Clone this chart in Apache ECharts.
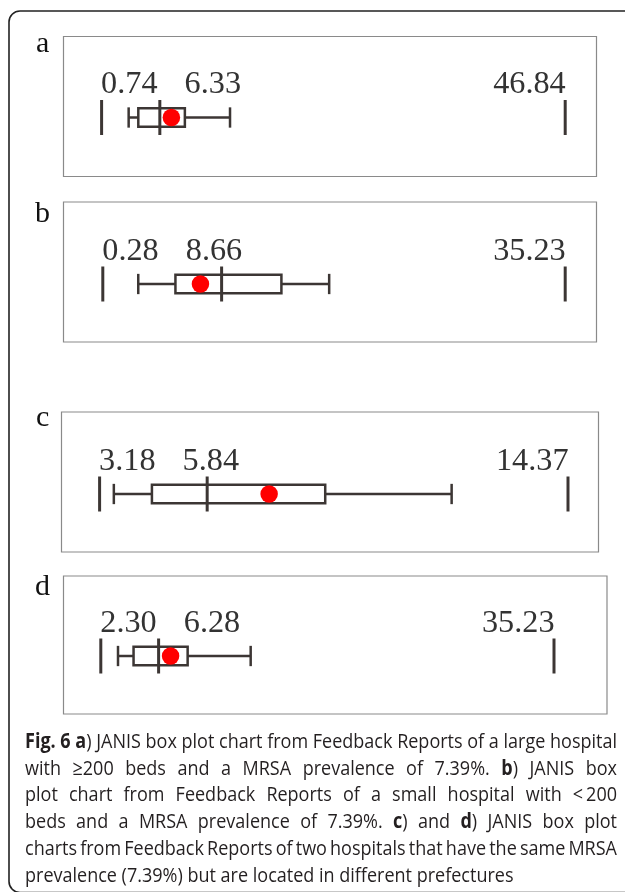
<!DOCTYPE html>
<html>
<head>
<meta charset="utf-8">
<style>
html,body{margin:0;padding:0;background:#fff;}
#chart{width:625px;height:892px;}
</style>
<script src="https://cdn.jsdelivr.net/npm/echarts@6/dist/echarts.min.js"></script>
</head>
<body>
<div id="chart"></div>
<script>
// ---------------- DATA ----------------
const panelLetters = ['a', 'b', 'c', 'd'];
const minValues = [0.74, 0.28, 3.18, 2.30];
const maxValues = [46.84, 35.23, 14.37, 35.23];
const medianLabels = ['6.33', '8.66', '5.84', '6.28'];
const whiskerLow = [3.43, 2.96, 3.52, 3.55];
const q1Values = [4.39, 5.77, 4.43, 4.68];
const medianValues = [6.53, 9.26, 5.75, 6.50];
const q3Values = [9.02, 13.78, 8.57, 8.61];
const whiskerHigh = [13.51, 17.39, 11.59, 13.19];
const hospitalValues = [7.68, 7.66, 7.23, 7.37];
const captionLines = [
  '**Fig. 6 a**) JANIS box plot chart from Feedback Reports of a large hospital',
  'with \u2265200 beds and a MRSA prevalence of 7.39%. **b**) JANIS box',
  'plot chart from Feedback Reports of a small hospital with <\u2009200',
  'beds and a MRSA prevalence of 7.39%. **c**) and **d**) JANIS box plot',
  'charts from Feedback Reports of two hospitals that have the same MRSA',
  'prevalence (7.39%) but are located in different prefectures'
];

// ---------------- LAYOUT ----------------
const W = 625;
const panelRects = [[63.5, 36.5, 533, 140], [63.5, 202, 533, 140], [61.5, 412, 537, 140], [63.5, 576, 543.5, 138]];
const letterPos = [[36, 44], [35, 214], [36, 418], [35, 587]];
const axisPx = [[101.6, 565.2, 117.5], [102.8, 565.2, 284], [99.6, 568, 494], [100.8, 554, 656]];
const BAND = 35;
const SERIF = '"Liberation Serif", "Times New Roman", serif';
const SANS = '"Open Sans", "Noto Sans", sans-serif';
const INK = '#3c3634';

const chart = echarts.init(document.getElementById('chart'), null, {renderer: 'canvas'});

const grids = [], xAxes = [], yAxes = [], series = [];
panelLetters.forEach((L, i) => {
  grids.push({left: axisPx[i][0], right: W - axisPx[i][1], top: axisPx[i][2] - BAND / 2, height: BAND, show: false});
  xAxes.push({type: 'value', gridIndex: i, min: minValues[i], max: maxValues[i], show: false});
  yAxes.push({type: 'value', gridIndex: i, min: 0, max: 1, show: false});
  series.push({
    type: 'custom',
    xAxisIndex: i, yAxisIndex: i,
    clip: false,
    silent: true,
    encode: {x: [0, 1, 2, 3, 4, 5, 6], y: 7},
    data: [[minValues[i], maxValues[i], whiskerLow[i], q1Values[i], medianValues[i], q3Values[i], whiskerHigh[i], 0.5]],
    renderItem: function (params, api) {
      const idx = params.seriesIndex / 2 | 0;
      const X = v => api.coord([v, 0.5])[0];
      const cy = api.coord([api.value(0), 0.5])[1];
      const H = api.size([0, 1])[1];
      const capH = H * 0.58, boxH = H * 0.53;
      const vline = (x, h, lw) => ({type: 'line', shape: {x1: x, y1: cy - h / 2, x2: x, y2: cy + h / 2}, style: {stroke: INK, lineWidth: lw}});
      const hline = (xa, xb) => ({type: 'line', shape: {x1: xa, y1: cy, x2: xb, y2: cy}, style: {stroke: INK, lineWidth: 2.5}});
      const xMin = X(api.value(0)), xMax = X(api.value(1));
      const xWl = X(api.value(2)), xQ1 = X(api.value(3)), xMed = X(api.value(4)), xQ3 = X(api.value(5)), xWh = X(api.value(6));
      const txt = (x, t, align) => ({type: 'text', x: x, y: cy - H / 2 - 15, scaleX: 1.04,
        style: {text: t, font: '31px ' + SERIF, fill: '#333', align: align, verticalAlign: 'middle', textAlign: align, textVerticalAlign: 'middle'}});
      return {type: 'group', children: [
        vline(xMin, H, 3),
        vline(xMax, H, 3),
        hline(xWl, xQ1),
        vline(xWl, capH, 2.5),
        hline(xQ3, xWh),
        vline(xWh, capH, 2.5),
        {type: 'rect', shape: {x: xQ1, y: cy - boxH / 2, width: xQ3 - xQ1, height: boxH}, style: {fill: 'rgba(0,0,0,0)', stroke: INK, lineWidth: 2.5}},
        vline(xMed, H, 3),
        txt(xMin - 0.5, minValues[idx].toFixed(2), 'left'),
        txt(xMin + 83, medianLabels[idx], 'left'),
        txt(xMax + 0.5, maxValues[idx].toFixed(2), 'right')
      ]};
    },
    z: 2
  });
  series.push({
    type: 'scatter', xAxisIndex: i, yAxisIndex: i,
    data: [[hospitalValues[i], 0.5]],
    symbol: 'circle', symbolSize: 17.5,
    itemStyle: {color: '#ff0000', opacity: 1},
    silent: true, z: 5
  });
});

// ---------------- GRAPHICS (frames, letters, caption) ----------------
const graphics = [];
graphics.push({type: 'rect', shape: {x: 9, y: 11, width: 700, height: 881.5, r: 11},
  style: {fill: 'none', stroke: '#222', lineWidth: 1.6}, silent: true});
panelRects.forEach(r => graphics.push({type: 'rect', shape: {x: r[0], y: r[1], width: r[2], height: r[3]},
  style: {fill: 'none', stroke: '#8a8a8a', lineWidth: 1.2}, silent: true}));
panelLetters.forEach((L, i) => graphics.push({type: 'text', x: letterPos[i][0], y: letterPos[i][1],
  style: {text: L, font: '30px ' + SERIF, fill: '#111', align: 'left', verticalAlign: 'middle', textAlign: 'left', textVerticalAlign: 'middle'}, silent: true}));

(function buildCaption() {
  const FS = 20.5, CAP_X = 25, CAP_W = 592, BASE0 = 748, STEP = 26.9;
  const ctx = document.createElement('canvas').getContext('2d');
  const fontOf = b => (b ? 'bold ' : '') + FS + 'px ' + SANS;
  const meas = (t, b) => { ctx.font = fontOf(b); return ctx.measureText(t).width; };
  const parsed = captionLines.map(line => {
    let bold = false; const chars = [];
    line.split('**').forEach((part, k) => { if (k > 0) bold = !bold; for (const ch of part) chars.push([ch, bold]); });
    const words = []; let cur = null;
    chars.forEach(([ch, b]) => {
      if (ch === ' ') { cur = null; return; }
      if (!cur) { cur = []; words.push(cur); }
      const last = cur[cur.length - 1];
      if (last && last.b === b) last.t += ch; else cur.push({t: ch, b: b});
    });
    return words;
  });
  const sp = meas(' ', false);
  const wordW = w => w.reduce((s, g) => s + meas(g.t, g.b), 0);
  const nat1 = parsed[0].reduce((s, w) => s + wordW(w), 0) + sp * (parsed[0].length - 1);
  const sx = CAP_W / nat1;
  parsed.forEach((words, li) => {
    const sumW = words.reduce((s, w) => s + wordW(w), 0) * sx;
    const gap = li < parsed.length - 1 ? (CAP_W - sumW) / (words.length - 1) : sp * sx;
    let x = CAP_X;
    const y = BASE0 + li * STEP - 0.3 * FS;
    words.forEach(w => {
      w.forEach(g => {
        graphics.push({type: 'text', x: x, y: y, scaleX: sx, silent: true,
          style: {text: g.t, font: fontOf(g.b), fill: '#231f20', align: 'left', verticalAlign: 'middle', textAlign: 'left', textVerticalAlign: 'middle'}});
        x += meas(g.t, g.b) * sx;
      });
      x += gap;
    });
  });
})();

chart.setOption({
  animation: false,
  backgroundColor: '#fff',
  grid: grids,
  xAxis: xAxes,
  yAxis: yAxes,
  series: series,
  graphic: {elements: graphics}
});
</script>
</body>
</html>
